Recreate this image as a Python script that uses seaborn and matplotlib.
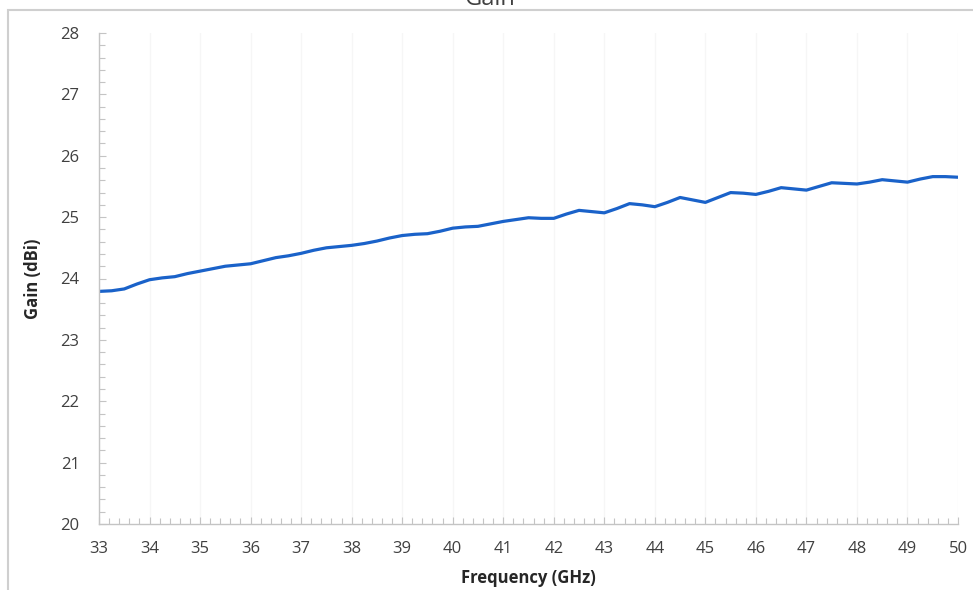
import matplotlib
matplotlib.use("Agg")
import matplotlib.pyplot as plt
from matplotlib.ticker import MultipleLocator
from matplotlib.patches import Rectangle
import seaborn as sns
import pandas as pd

freq_ghz = [33.00, 33.25, 33.50, 33.75, 34.00, 34.25, 34.50, 34.75, 35.00, 35.25,
            35.50, 35.75, 36.00, 36.25, 36.50, 36.75, 37.00, 37.25, 37.50, 37.75,
            38.00, 38.25, 38.50, 38.75, 39.00, 39.25, 39.50, 39.75, 40.00, 40.25,
            40.50, 40.75, 41.00, 41.25, 41.50, 41.75, 42.00, 42.25, 42.50, 42.75,
            43.00, 43.25, 43.50, 43.75, 44.00, 44.25, 44.50, 44.75, 45.00, 45.25,
            45.50, 45.75, 46.00, 46.25, 46.50, 46.75, 47.00, 47.25, 47.50, 47.75,
            48.00, 48.25, 48.50, 48.75, 49.00, 49.25, 49.50, 49.75, 50.00]
gain_dbi = [23.79, 23.80, 23.83, 23.91, 23.98, 24.01, 24.03, 24.08, 24.12, 24.16,
            24.20, 24.22, 24.24, 24.29, 24.34, 24.37, 24.41, 24.46, 24.50, 24.52,
            24.54, 24.57, 24.61, 24.66, 24.70, 24.72, 24.73, 24.77, 24.82, 24.84,
            24.85, 24.89, 24.93, 24.96, 24.99, 24.98, 24.98, 25.05, 25.11, 25.09,
            25.07, 25.14, 25.22, 25.20, 25.17, 25.24, 25.32, 25.28, 25.24, 25.32,
            25.40, 25.39, 25.37, 25.42, 25.48, 25.46, 25.44, 25.50, 25.56, 25.55,
            25.54, 25.57, 25.61, 25.59, 25.57, 25.62, 25.66, 25.66, 25.65]
x_ticks = list(range(33, 51))
y_ticks = list(range(20, 29))

df = pd.DataFrame({"Frequency (GHz)": freq_ghz, "Gain (dBi)": gain_dbi})

sns.set_theme(style="white")
plt.rcParams["font.family"] = ["Open Sans", "DejaVu Sans"]

fig = plt.figure(figsize=(9.73, 5.90), dpi=100)
ax = fig.add_axes([99 / 973, 1 - 524 / 590, (958 - 99) / 973, (524 - 33) / 590])

sns.lineplot(data=df, x="Frequency (GHz)", y="Gain (dBi)", ax=ax,
             color="#1a62c9", linewidth=2.3, solid_joinstyle="round",
             solid_capstyle="round")

ax.set_xlim(33, 50)
ax.set_ylim(20, 28)
ax.set_xticks(x_ticks)
ax.set_yticks(y_ticks)
ax.xaxis.set_minor_locator(MultipleLocator(0.2))
ax.yaxis.set_minor_locator(MultipleLocator(0.2))

for s in ["top", "right"]:
    ax.spines[s].set_visible(False)
for s in ["left", "bottom"]:
    ax.spines[s].set_color("#c4c4c4")
    ax.spines[s].set_linewidth(1.0)

ax.tick_params(axis="both", which="both", direction="in", color="#c4c4c4",
               bottom=True, left=True, labelsize=12, labelcolor="#404040")
ax.tick_params(axis="both", which="major", length=5, width=0.8)
ax.tick_params(axis="both", which="minor", length=4, width=0.8)
ax.tick_params(axis="x", which="major", pad=12)
ax.tick_params(axis="y", which="major", pad=14)

ax.grid(axis="x", which="major", color="#f6f6f6", linewidth=1.0)
ax.set_axisbelow(True)

ax.set_xlabel("Frequency (GHz)", fontsize=12, fontweight="bold", color="#262626", labelpad=9)
ax.set_ylabel("Gain (dBi)", fontsize=12, fontweight="bold", color="#262626", labelpad=13)

fig.text(490 / 973, 1 - 5 / 590, "Gain", ha="center", va="baseline",
         fontsize=17, color="#404040")

fig.patches.append(Rectangle((8 / 973, -0.05), 1.2, 1.05 - 10 / 590,
                             transform=fig.transFigure, fill=False,
                             edgecolor="#cfcfcf", linewidth=1.5))

fig.savefig("out.png", dpi=100)
